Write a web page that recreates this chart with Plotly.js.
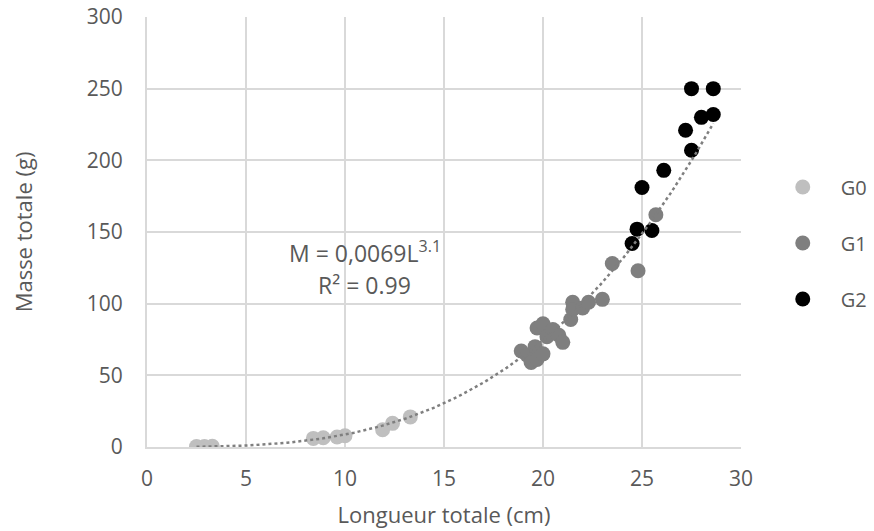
<!DOCTYPE html>
<html>
<head>
<meta charset="utf-8">
<script src="https://cdn.plot.ly/plotly-3.0.1.min.js"></script>
<style>html,body{margin:0;padding:0;background:#fff;}#chart{width:874px;height:531px;}</style>
</head>
<body>
<div id="chart"></div>
<script>
// Data
const seriesNames = ["G0", "G1", "G2"];
const g0Length = [2.5, 2.9, 3.3, 8.4, 8.9, 9.6, 10.0, 11.9, 12.4, 13.3];
const g0Mass   = [0.3, 0.4, 0.5, 6, 6.5, 7, 7.8, 12, 16.5, 21];
const g1Length = [18.9, 19.2, 19.4, 19.6, 19.7, 20.0, 19.7, 20.2, 20.5, 20.8, 21.0, 20.0, 21.4, 21.5, 21.5, 22.0, 22.3, 23.0, 23.5, 24.8, 25.7];
const g1Mass   = [67, 64, 59, 70, 83, 86, 61, 77, 82, 78, 73, 65, 89, 101, 96, 97, 101, 103, 128, 123, 162];
const g2Length = [24.5, 24.75, 25.5, 25.0, 26.1, 27.5, 27.2, 28.0, 28.6, 27.5, 28.6];
const g2Mass   = [142, 152, 151, 181, 193, 207, 221, 230, 232, 250, 250];
const xTicks = [0, 5, 10, 15, 20, 25, 30];
const yTicks = [0, 50, 100, 150, 200, 250, 300];
// Trend line: power model shown on the chart, M = 0,0069 L^3.1
const trendCoef = 0.0069;
const trendExp = 3.1;
const trendRange = [2.5, 28.6];
const eqText = "M = 0,0069L<sup>3.1</sup>";
const r2Text = "R² = 0.99";

const trendX = [];
const trendY = [];
for (let i = 0; i <= 200; i++) {
  const L = trendRange[0] + (trendRange[1] - trendRange[0]) * i / 200;
  trendX.push(L);
  trendY.push(trendCoef * Math.pow(L, trendExp));
}

const colors = ["#bfbfbf", "#7f7f7f", "#000000"];
const xs = [g0Length, g1Length, g2Length];
const ys = [g0Mass, g1Mass, g2Mass];

const traces = [];
for (let k = 0; k < 3; k++) {
  traces.push({
    type: "scatter", mode: "markers", name: seriesNames[k],
    legendgroup: seriesNames[k],
    x: xs[k], y: ys[k],
    marker: {color: colors[k], size: 15, line: {width: 0}},
    hoverinfo: "x+y"
  });
}
traces.push({
  type: "scatter", mode: "lines", x: trendX, y: trendY, showlegend: false,
  line: {color: "#7f7f7f", width: 2.5, dash: "dot"}, hoverinfo: "skip"
});

const txt = "#595959";
const fontFam = "'Open Sans', sans-serif";
const layout = {
  width: 874, height: 531,
  margin: {l: 147, r: 133, t: 17, b: 84, autoexpand: false},
  paper_bgcolor: "#ffffff", plot_bgcolor: "#ffffff",
  font: {family: fontFam, color: txt, size: 20},
  showlegend: true,
  legend: {
    x: 1.04, xanchor: "left", y: 0.65, yanchor: "top",
    font: {size: 20, color: txt, family: fontFam},
    itemwidth: 66, tracegroupgap: 27, bgcolor: "rgba(0,0,0,0)"
  },
  xaxis: {
    range: [0, 30], tickvals: xTicks, ticktext: xTicks.map(String),
    showgrid: true, gridcolor: "#d9d9d9", gridwidth: 2,
    zeroline: false, showline: true, linecolor: "#d9d9d9", linewidth: 2,
    ticks: "", ticklabelstandoff: 12,
    tickfont: {size: 21, color: txt},
    title: {text: "Longueur totale (cm)", font: {size: 22, color: txt}, standoff: 16}
  },
  yaxis: {
    range: [0, 300], tickvals: yTicks, ticktext: yTicks.map(String),
    showgrid: true, gridcolor: "#d9d9d9", gridwidth: 2,
    zeroline: false, showline: true, linecolor: "#d9d9d9", linewidth: 2,
    ticks: "", ticklabelstandoff: 18,
    tickfont: {size: 21, color: txt},
    title: {text: "Masse totale (g)", font: {size: 22, color: txt}, standoff: 48}
  },
  annotations: [
    {x: 11, y: 136, xref: "x", yref: "y", text: eqText, showarrow: false,
     font: {size: 23, color: txt}, xanchor: "center"},
    {x: 11, y: 113, xref: "x", yref: "y", text: r2Text, showarrow: false,
     font: {size: 23, color: txt}, xanchor: "center"}
  ]
};

Plotly.newPlot("chart", traces, layout, {staticPlot: true, displayModeBar: false});
</script>
</body>
</html>
